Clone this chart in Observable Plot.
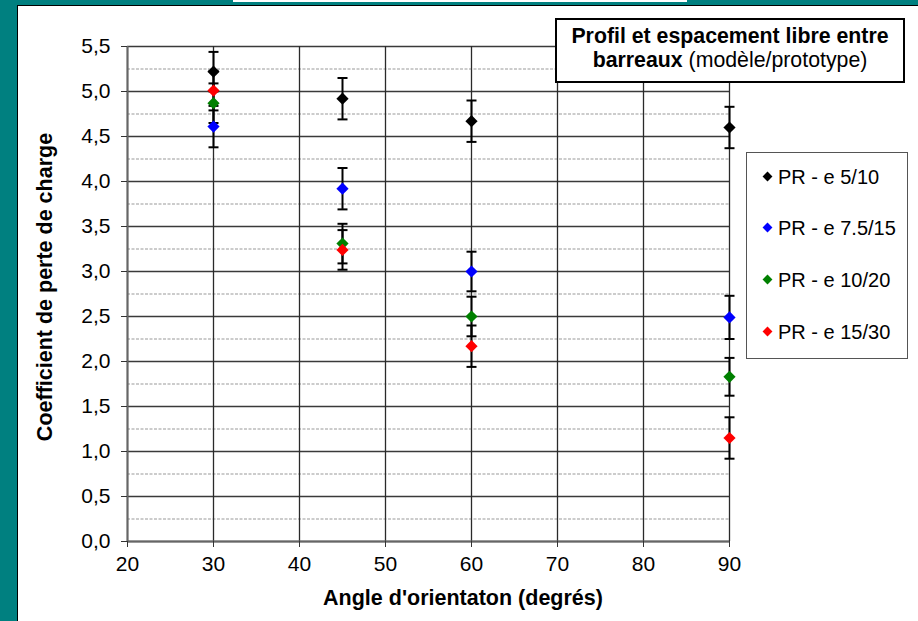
<!DOCTYPE html>
<html>
<head>
<meta charset="utf-8">
<script src="https://cdn.jsdelivr.net/npm/d3@7"></script>
<script src="https://cdn.jsdelivr.net/npm/@observablehq/plot@0.6"></script>
<style>
  html, body { margin: 0; padding: 0; }
  body { width: 918px; height: 621px; background: #008080; position: relative; overflow: hidden;
         font-family: "Liberation Sans", Arial, sans-serif; color: #000; }
  #topbar { position: absolute; left: 233px; top: 0; width: 454px; height: 2px; background: #fff; }
  #panel { position: absolute; left: 17px; top: 5px; width: 901px; height: 616px; background: #fff;
           border-left: 1.5px solid #000; border-top: 1.5px solid #000; box-sizing: border-box; }
  #chart { position: absolute; left: 0; top: 0; }
  #titlebox { position: absolute; left: 555px; top: 18px; width: 350px; height: 65px; box-sizing: border-box;
              border: 2px solid #000; background: #fff; text-align: center; font-size: 21.3px; line-height: 24px;
              padding-top: 4px; white-space: nowrap; }
  #legend { position: absolute; left: 746px; top: 152px; width: 162px; height: 207px; box-sizing: border-box;
            border: 1.5px solid #555; background: #fff; }
  .entry { position: absolute; left: 14px; height: 20px; line-height: 20px; font-size: 20px; white-space: nowrap; }
  .sw { position: absolute; left: 3px; top: 6px; width: 7px; height: 7px; transform: rotate(45deg); }
  .lab { position: absolute; left: 17px; top: 0; }
  #ytitle { position: absolute; left: 45px; top: 287px; transform: translate(-50%, -50%) rotate(-90deg);
            font-weight: bold; font-size: 21.5px; white-space: nowrap; }
  #xtitle { position: absolute; left: 463px; top: 588px; transform: translateX(-50%); line-height: 21px;
            font-weight: bold; font-size: 21.5px; white-space: nowrap; }
</style>
</head>
<body>
<div id="topbar"></div>
<div id="panel"></div>
<div id="chart"></div>
<div id="ytitle">Coefficient de perte de charge</div>
<div id="xtitle">Angle d'orientaton (degrés)</div>
<div id="titlebox"><b>Profil et espacement libre entre</b><br><b>barreaux</b> (modèle/prototype)</div>
<div id="legend"></div>
<script>
// ---- data ----
const angles = [30, 45, 60, 90];
const seriesNames = ["PR - e 5/10", "PR - e 7.5/15", "PR - e 10/20", "PR - e 15/30"];
const seriesColors = ["#000000", "#0000ff", "#008000", "#ff0000"];
const values_5_10   = [5.22, 4.92, 4.67, 4.60];
const values_7_5_15 = [4.61, 3.92, 3.00, 2.49];
const values_10_20  = [4.87, 3.31, 2.50, 1.83];
const values_15_30  = [5.01, 3.24, 2.17, 1.15];
const errors_5_10   = [0.22, 0.23, 0.23, 0.23];
const errors_7_5_15 = [0.23, 0.23, 0.22, 0.24];
const errors_10_20  = [0.22, 0.22, 0.22, 0.21];
const errors_15_30  = [0.22, 0.22, 0.23, 0.23];
const xTicks = [20, 30, 40, 50, 60, 70, 80, 90];
const yTicks = [0, 0.5, 1, 1.5, 2, 2.5, 3, 3.5, 4, 4.5, 5, 5.5];
const yMinor = [0.25, 0.75, 1.25, 1.75, 2.25, 2.75, 3.25, 3.75, 4.25, 4.75, 5.25];

const allValues = [values_5_10, values_7_5_15, values_10_20, values_15_30];
const allErrors = [errors_5_10, errors_7_5_15, errors_10_20, errors_15_30];
const rows = [];
allValues.forEach((vals, i) => vals.forEach((v, j) => rows.push({
  series: seriesNames[i], angle: angles[j], value: v, err: allErrors[i][j]
})));

const capSymbol = { draw(ctx) { ctx.moveTo(-5, 0); ctx.lineTo(5, 0); } };
const fmt = d => d.toFixed(1).replace(".", ",");

const chart = Plot.plot({
  width: 918, height: 621,
  marginLeft: 127, marginRight: 189, marginTop: 46, marginBottom: 80,
  style: { background: "transparent", fontFamily: "'Liberation Sans', Arial, sans-serif", fontSize: "21px", color: "#000", overflow: "visible" },
  x: { domain: [20, 90] },
  y: { domain: [0, 5.5] },
  color: { domain: seriesNames, range: seriesColors },
  marks: [
    Plot.ruleY(yMinor, { stroke: "#999", strokeWidth: 1, strokeDasharray: "3,1.5" }),
    Plot.ruleY(yTicks, { stroke: "#3a3a3a", strokeWidth: 1.4 }),
    Plot.ruleX(xTicks, { stroke: "#2a2a2a", strokeWidth: 1.3 }),
    Plot.ruleX([20], { stroke: "#666", strokeWidth: 2 }),
    Plot.ruleY([0], { stroke: "#666", strokeWidth: 2 }),
    Plot.axisX({ ticks: xTicks, tickSize: 6, tickPadding: 9, label: null, stroke: "#333", fontSize: 21 }),
    Plot.axisY({ ticks: yTicks, tickSize: 6, tickPadding: 11, label: null, stroke: "#333", fontSize: 21, tickFormat: fmt }),
    Plot.ruleX(rows, { x: "angle", y1: d => d.value - d.err, y2: d => d.value + d.err, stroke: "#000", strokeWidth: 2 }),
    Plot.dot(rows, { x: "angle", y: d => d.value + d.err, symbol: capSymbol, fill: "none", stroke: "#000", strokeWidth: 2 }),
    Plot.dot(rows, { x: "angle", y: d => d.value - d.err, symbol: capSymbol, fill: "none", stroke: "#000", strokeWidth: 2 }),
    Plot.dot(rows, { x: "angle", y: "value", symbol: "diamond2", r: 5.5, fill: "series", stroke: "none" })
  ]
});
document.getElementById("chart").appendChild(chart);

// legend from series arrays
const legend = document.getElementById("legend");
const centers = [177, 228, 280, 332];
seriesNames.forEach((name, i) => {
  const e = document.createElement("div");
  e.className = "entry";
  e.style.top = (centers[i] - 152 - 1.5 - 10) + "px";
  e.innerHTML = `<span class="sw" style="background:${seriesColors[i]}"></span><span class="lab">${name}</span>`;
  legend.appendChild(e);
});
</script>
</body>
</html>
